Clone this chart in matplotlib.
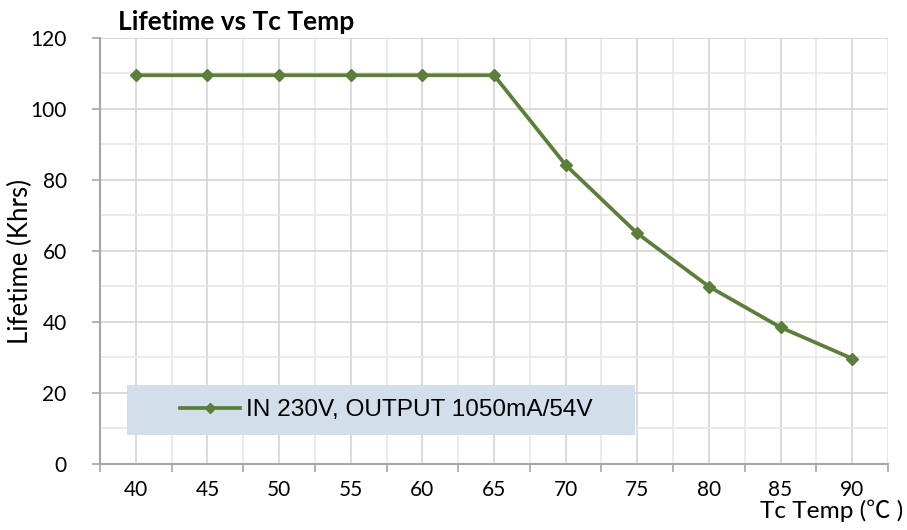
import matplotlib
matplotlib.use("Agg")
import matplotlib.pyplot as plt
from matplotlib.patches import Rectangle
from matplotlib.lines import Line2D
import numpy as np

temps = ["40", "45", "50", "55", "60", "65", "70", "75", "80", "85", "90"]
lifetime = [109.5, 109.5, 109.5, 109.5, 109.5, 109.5, 84.2, 64.9, 49.9, 38.4, 29.6]
series_label = "IN 230V, OUTPUT 1050mA/54V"
title = "Lifetime vs Tc Temp"
ylabel = "Lifetime (Khrs)"
xlabel = "Tc Temp (\u2103 )"
yticks = [0, 20, 40, 60, 80, 100, 120]

line_color = "#5b7f3b"
tick_font = ["Lato", "Noto Sans CJK SC", "DejaVu Sans"]

fig = plt.figure(figsize=(9.07, 5.30), dpi=100)
ax = fig.add_axes([100/907, 1-463.5/530, 788/907, 425.5/530])

x = np.arange(len(temps))
ax.plot(x, lifetime, color=line_color, lw=2.7, marker="D", markersize=6.5, zorder=3, clip_on=False)

ax.set_xlim(-0.5, len(temps) - 0.5)
ax.set_ylim(0, 120)

ax.set_xticks(x)
ax.set_xticklabels(temps, fontfamily=tick_font, fontsize=15)
ax.set_xticks(np.arange(-0.5, len(temps)), minor=True)
ax.tick_params(axis="x", which="major", length=0, pad=12)
ax.tick_params(axis="x", which="minor", length=6, width=1.2, color="#a6a6a6", direction="out")

ax.set_yticks(yticks)
ax.set_yticklabels([str(v) for v in yticks], fontfamily=tick_font, fontsize=15)
ax.set_yticks(np.arange(10, 120, 20), minor=True)
ax.tick_params(axis="y", which="major", length=6, width=1.2, color="#a6a6a6", direction="out", pad=18)
ax.tick_params(axis="y", which="minor", length=0)

ax.grid(which="major", color="#d4d4d4", lw=1.2, zorder=0)
ax.grid(which="minor", color="#e8e8e8", lw=1.2, zorder=0)
ax.set_axisbelow(True)

for s in ["top", "right"]:
    ax.spines[s].set_visible(False)
for s in ["left", "bottom"]:
    ax.spines[s].set_color("#a6a6a6")
    ax.spines[s].set_linewidth(1.5)
ax.axvline(len(temps) - 0.5, color="#e8e8e8", lw=1.2, zorder=0)

# legend box
x0 = (127-100)/788
x1 = (635-100)/788
y0 = (463.5-435)/425.5
y1 = (463.5-385)/425.5
ax.add_patch(Rectangle((x0, y0), x1-x0, y1-y0, transform=ax.transAxes,
                       facecolor="#d2dfeb", edgecolor="none", zorder=4))
h = Line2D([], [], color=line_color, lw=2.7, marker="D", markersize=5)
leg = ax.legend([h], [series_label], loc="center left",
                bbox_to_anchor=((180-100)/788, (463.5-410)/425.5),
                frameon=False, borderpad=0, borderaxespad=0, handlelength=2.46,
                handletextpad=0.25, prop={"family": "Liberation Sans", "size": 17.6})
leg.set_zorder(5)

fig.text(118/907, 1-22/530, title, fontfamily=tick_font, fontweight="bold",
         fontsize=19, va="center", ha="left")
fig.text(20/907, 1-261/530, ylabel, rotation=90, fontfamily=tick_font,
         fontsize=18.5, va="center", ha="center")
fig.text(903/907, 1-511/530, xlabel, fontfamily=tick_font, fontsize=17.6,
         va="center", ha="right")

fig.savefig("out.png", dpi=100)
